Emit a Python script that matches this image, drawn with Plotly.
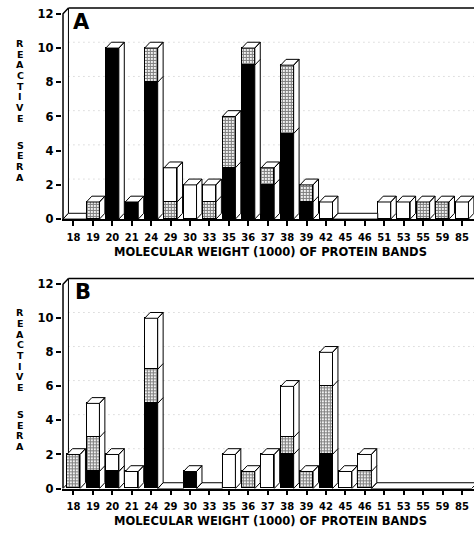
import plotly.graph_objects as go

# ---------------- data ----------------
cats = ["18", "19", "20", "21", "24", "29", "30", "33", "35", "36", "37",
        "38", "39", "42", "45", "46", "51", "53", "55", "59", "85"]

A_black  = [0, 0, 10, 1, 8, 0, 0, 0, 3, 9, 2, 5, 1, 0, 0, 0, 0, 0, 0, 0, 0]
A_dotted = [0, 1, 0, 0, 2, 1, 0, 1, 3, 1, 1, 4, 1, 0, 0, 0, 0, 0, 1, 1, 0]
A_white  = [0, 0, 0, 0, 0, 2, 2, 1, 0, 0, 0, 0, 0, 1, 0, 0, 1, 1, 0, 0, 1]

B_black  = [0, 1, 1, 0, 5, 0, 1, 0, 0, 0, 0, 2, 0, 2, 0, 0, 0, 0, 0, 0, 0]
B_dotted = [2, 2, 0, 0, 2, 0, 0, 0, 0, 1, 0, 1, 1, 4, 0, 1, 0, 0, 0, 0, 0]
B_white  = [0, 2, 1, 1, 3, 0, 0, 0, 2, 0, 2, 3, 0, 2, 1, 1, 0, 0, 0, 0, 0]

y_ticks = [0, 2, 4, 6, 8, 10, 12]
y_title = "REACTIVE SERA"
x_title = "MOLECULAR WEIGHT (1000) OF PROTEIN BANDS"
panel_labels = ["A", "B"]

# ---------------- geometry ----------------
FW, FH = 474, 535
W = 0.67      # bar width (category units)
DX = 0.28     # depth offset in category units
DY = 0.34     # depth offset in value units
XAX = -0.54   # position of front y-axis line
X0, X1 = -0.6, 20.62
PX_PER_CAT = 19.43
PX_I0 = 73.5

FONT = "DejaVu Sans"

panels = [
    dict(black=A_black, dotted=A_dotted, white=A_white, base=222, unit=17.33, top=5,
         xa="x", ya="y", label=panel_labels[0], lab_px=(81, 22), xt_py=255),
    dict(black=B_black, dotted=B_dotted, white=B_white, base=495, unit=17.25, top=279,
         xa="x2", ya="y2", label=panel_labels[1], lab_px=(83, 296), xt_py=528),
]

fig = go.Figure()
shapes = []
annotations = []
n = len(cats)
xs = list(range(n))

for k, p in enumerate(panels):
    xa, ya = p["xa"], p["ya"]
    totals = [b + d + w for b, d, w in zip(p["black"], p["dotted"], p["white"])]

    # front faces: stacked bars
    for vals, color, pattern in [
        (p["black"], "black", None),
        (p["dotted"], "white", dict(shape="+", fgcolor="black", bgcolor="white",
                                     size=3, solidity=0.65)),
        (p["white"], "white", None),
    ]:
        marker = dict(color=color, line=dict(color="black", width=1))
        if pattern:
            marker["pattern"] = pattern
        fig.add_trace(go.Bar(
            x=xs, y=[v if v > 0 else None for v in vals], width=W,
            marker=marker, xaxis=xa, yaxis=ya, showlegend=False, hoverinfo="skip"))

    # side and top faces + flat slabs for empty bands
    fx, fy = [], []
    lx, ly = [], []
    for i, t in enumerate(totals):
        if t <= 0:
            continue
        r = i + W / 2
        l = i - W / 2
        fx += [r, r + DX, r + DX, r, r, None]
        fy += [0, DY, t + DY, t, 0, None]
        fx += [l, l + DX, r + DX, r, l, None]
        fy += [t, t + DY, t + DY, t, t, None]
        cum = 0
        for seg in (p["black"][i], p["dotted"][i]):
            cum += seg
            if 0 < cum < t:
                lx += [r, r + DX, None]
                ly += [cum, cum + DY, None]
    i = 0
    while i < n:
        if totals[i] == 0:
            j = i
            while j + 1 < n and totals[j + 1] == 0:
                j += 1
            L = (i - 1 + W / 2) if i > 0 else XAX
            if j + 1 < n:
                R = j + 1 - W / 2
                fx += [L, L + DX, R, R, L, None]
                fy += [0, DY, DY, 0, 0, None]
            else:
                R = n - 0.5
                fx += [L, L + DX, R + DX, R, L, None]
                fy += [0, DY, DY, 0, 0, None]
            i = j + 1
        else:
            i += 1

    fig.add_trace(go.Scatter(x=fx, y=fy, mode="lines", fill="toself", fillcolor="white",
                             line=dict(color="black", width=1), xaxis=xa, yaxis=ya,
                             showlegend=False, hoverinfo="skip"))
    fig.add_trace(go.Scatter(x=lx, y=ly, mode="lines", line=dict(color="black", width=1),
                             xaxis=xa, yaxis=ya, showlegend=False, hoverinfo="skip"))

    # frame: back wall grid, top, left wall, y axis
    ymax = y_ticks[-1]
    for v in y_ticks[1:-1]:
        shapes.append(dict(type="line", xref=xa, yref=ya, layer="below",
                           x0=XAX + DX, x1=X1, y0=v + DY, y1=v + DY,
                           line=dict(color="#c4c4c4", width=1, dash="1px,4px")))
    shapes.append(dict(type="line", xref=xa, yref=ya, layer="below",
                       x0=XAX + DX, x1=X1, y0=ymax + DY, y1=ymax + DY,
                       line=dict(color="black", width=1.5)))
    shapes.append(dict(type="line", xref=xa, yref=ya, layer="below",
                       x0=XAX + DX, x1=XAX + DX, y0=DY, y1=ymax + DY,
                       line=dict(color="black", width=1)))
    shapes.append(dict(type="line", xref=xa, yref=ya, layer="below",
                       x0=XAX, x1=XAX + DX, y0=0, y1=DY,
                       line=dict(color="black", width=1)))
    shapes.append(dict(type="path", xref=xa, yref=ya, layer="above",
                       path=f"M {XAX},0 L {XAX},{ymax} L {XAX + DX},{ymax + DY}",
                       line=dict(color="black", width=1.5)))

    # axes
    base, unit, top = p["base"], p["unit"], p["top"]
    yr = (base - top) / unit
    dom_y = [1 - base / FH, 1 - top / FH]
    left_px = PX_I0 + X0 * PX_PER_CAT
    dom_x = [left_px / FW, 1.0]
    axis_suffix = "" if k == 0 else "2"
    fig.update_layout(**{
        "xaxis" + axis_suffix: dict(
            domain=dom_x, range=[X0, X1], anchor=ya, tickmode="array",
            tickvals=xs, ticktext=cats, ticks="outside", ticklen=5, tickwidth=1.5,
            tickcolor="black", showline=True, linecolor="black", linewidth=1.5,
            showgrid=False, zeroline=False, ticklabelstandoff=3,
            tickfont=dict(family=FONT, size=10, color="black", weight="bold")),
        "yaxis" + axis_suffix: dict(
            domain=dom_y, range=[0, yr], anchor=xa, tickmode="array",
            tickvals=y_ticks, ticks="outside", ticklen=5, tickwidth=1.5,
            tickcolor="black", showline=False, showgrid=False, zeroline=False,
            tickfont=dict(family=FONT, size=11.5, color="black", weight="bold")),
    })

    annotations.append(dict(text=p["label"], xref="paper", yref="paper",
                            x=p["lab_px"][0] / FW, y=1 - p["lab_px"][1] / FH,
                            xanchor="center", yanchor="middle", showarrow=False,
                            font=dict(family=FONT, size=21, color="black", weight="bold")))
    annotations.append(dict(text=x_title, xref="paper", yref="paper",
                            x=270 / FW, y=1 - p["xt_py"] / FH,
                            xanchor="center", yanchor="middle", showarrow=False,
                            font=dict(family=FONT, size=11.5, color="black", weight="bold")))
    words = y_title.split(" ")
    starts = [base - 178, base - 75]
    step = 10.8
    for w_, s0 in zip(words, starts):
        for j, ch in enumerate(w_):
            annotations.append(dict(text=ch, xref="paper", yref="paper",
                                    x=20 / FW, y=1 - (s0 + j * step) / FH,
                                    xanchor="center", yanchor="middle", showarrow=False,
                                    borderpad=0,
                                    font=dict(family=FONT, size=9.5, color="black",
                                              weight="bold")))

fig.update_layout(
    width=FW, height=FH, margin=dict(l=0, r=0, t=0, b=0),
    paper_bgcolor="white", plot_bgcolor="white",
    barmode="stack", bargap=0, showlegend=False,
    shapes=shapes, annotations=annotations,
)

fig.write_html("out.html")
